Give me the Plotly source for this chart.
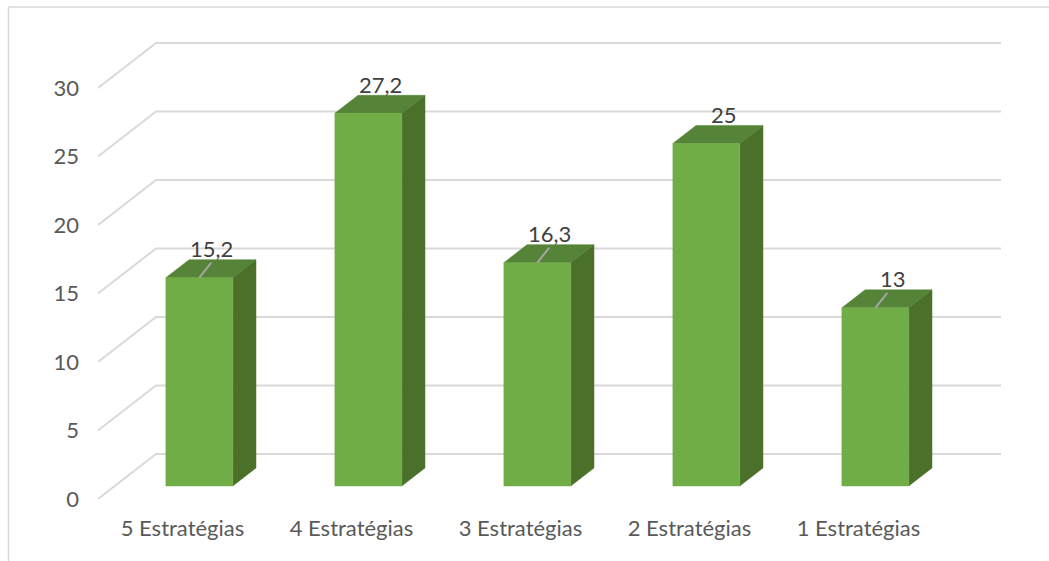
import plotly.graph_objects as go

# Chart data
categories = ["5 Estratégias", "4 Estratégias", "3 Estratégias", "2 Estratégias", "1 Estratégias"]
values = [15.2, 27.2, 16.3, 25, 13]
value_labels = ["15,2", "27,2", "16,3", "25", "13"]
y_ticks = [0, 5, 10, 15, 20, 25, 30]

# Oblique projection: a point at depth d (0 = front, 1 = back wall)
# is shifted by d*DX category units and d*DV value units.
DX = 58 / 169
DV = 45 / 13.7
BAR_HALF = 0.198          # half bar width in category units
D_FRONT, D_BACK = 0.29, 0.69
N = len(categories)
X_LEFT, X_RIGHT = -0.5, N - 0.5

FRONT = "#70AD47"
TOP = "#558337"
SIDE = "#4A7029"
GRID = "#D9D9D9"
FONT = "Lato"


def proj(x, v, d):
    return x + d * DX, v + d * DV


fig = go.Figure()


def poly(points, color, width=0, line_color=None, fill=True):
    xs = [p[0] for p in points]
    ys = [p[1] for p in points]
    if fill:
        xs.append(xs[0])
        ys.append(ys[0])
    fig.add_trace(go.Scatter(
        x=xs, y=ys, mode="lines",
        fill="toself" if fill else None,
        fillcolor=color if fill else None,
        line=dict(color=line_color or color, width=width),
        hoverinfo="skip", showlegend=False,
    ))


# Walls: diagonal lines on the left wall and horizontal lines on the back wall
for t in y_ticks:
    a = proj(X_LEFT, t, 0)
    b = proj(X_LEFT, t, 1)
    c = proj(X_RIGHT, t, 1)
    poly([a, b, c], GRID, width=2, fill=False)

# Bars
for i, v in enumerate(values):
    xl, xr = i - BAR_HALF, i + BAR_HALF
    f_bl = proj(xl, 0, D_FRONT)
    f_br = proj(xr, 0, D_FRONT)
    f_tr = proj(xr, v, D_FRONT)
    f_tl = proj(xl, v, D_FRONT)
    b_br = proj(xr, 0, D_BACK)
    b_tr = proj(xr, v, D_BACK)
    b_tl = proj(xl, v, D_BACK)
    poly([f_br, b_br, b_tr, f_tr], SIDE, width=0.5)
    poly([f_tl, f_tr, b_tr, b_tl], TOP, width=0.5)
    poly([f_bl, f_br, f_tr, f_tl], FRONT, width=0.5)

# Value labels above the bars, with leader lines where the label sits off the bar
leader_bars = {0, 2, 4}
annotations = []
for i, (v, lab) in enumerate(zip(values, value_labels)):
    cx, cy = proj(i, v, D_FRONT)
    lx = cx + 12 / 169 + (6 / 169 if len(lab) < 3 else 0)
    ly = v + D_BACK * DV + 11 / 13.7
    if i in leader_bars:
        poly([(cx, cy), (cx + 12 / 169, cy + 15 / 13.7)], "#A6A6A6", width=2, fill=False)
    annotations.append(dict(
        x=lx, y=ly, text=lab, showarrow=False, xanchor="center", yanchor="middle",
        font=dict(family=FONT, size=22, color="#404040"),
    ))

# Outer chart frame
frame = [dict(
    type="rect", xref="paper", yref="paper",
    x0=(8.5 - 98) / 951, x1=1.2, y0=-0.5, y1=(499 - 7) / 499,
    line=dict(color=GRID, width=1.5), fillcolor="rgba(0,0,0,0)", layer="below",
)]

fig.update_layout(
    width=1049, height=561,
    margin=dict(l=98, r=0, t=0, b=62),
    paper_bgcolor="white", plot_bgcolor="white",
    showlegend=False,
    annotations=annotations,
    shapes=frame,
    xaxis=dict(
        range=[X_LEFT, X_LEFT + 951 / 169],
        tickvals=list(range(N)), ticktext=categories,
        showgrid=False, zeroline=False, showline=False, ticks="",
        tickfont=dict(family=FONT, size=22, color="#595959"),
        ticklabelstandoff=14, fixedrange=True,
    ),
    yaxis=dict(
        range=[0, 499 / 13.7],
        tickvals=y_ticks, ticktext=[str(t) for t in y_ticks],
        showgrid=False, zeroline=False, showline=False, ticks="",
        tickfont=dict(family=FONT, size=22, color="#595959"),
        ticklabelstandoff=18, fixedrange=True,
    ),
)

fig.write_html("out.html")
